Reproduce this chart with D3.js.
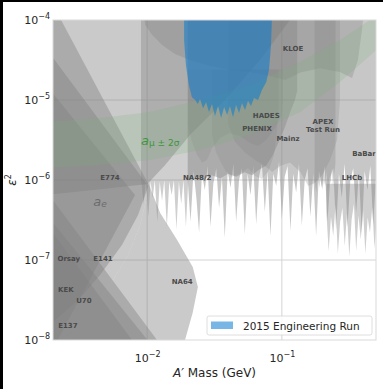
<!DOCTYPE html>
<html>
<head>
<meta charset="utf-8">
<script src="https://cdn.jsdelivr.net/npm/d3@7"></script>
<style>
  body { margin: 0; background: #fff; }
  svg { display: block; font-family: "DejaVu Sans", sans-serif; }
</style>
</head>
<body>
<svg id="chart" width="383" height="389"></svg>
<script>
// ---- Existing limits: [A' mass (GeV), epsilon^2] outlines ----
const e137 = [[0.0018, 2.74e-7], [0.00886, 7.3e-9], [0.0018, 5e-9]];
const kek = [[0.0018, 3.65e-7], [0.0114, 7.7e-9], [0.0018, 5e-9]];
const u70 = [[0.0018, 7.1e-7], [0.0136, 7.3e-9], [0.0018, 5e-9]];
const orsay = [[0.0018, 1.5e-5], [0.00813, 6.49e-7], [0.0018, 5.6e-9]];
const e141 = [[0.0018, 4.3e-5], [0.0102, 8.4e-7], [0.00856, 3.65e-7], [0.0065, 1.54e-7],
  [0.00447, 6.49e-8], [0.00307, 3.16e-8], [0.0020, 1.68e-8], [0.0018, 1.5e-8]];
const e774 = [[0.0018, 1.33e-4], [0.0021, 1.33e-4], [0.0102, 8.9e-7], [0.0018, 6.5e-7]];
const na64 = [[0.0102, 9.2e-7], [0.0125, 3.87e-7], [0.0167, 1.78e-7], [0.0218, 8.2e-8],
  [0.0238, 4.6e-8], [0.0218, 2.2e-8], [0.0191, 1.0e-8], [0.0182, 5.6e-9], [0.00207, 5.6e-9],
  [0.00225, 8.66e-9], [0.00291, 1.41e-8], [0.0041, 2.74e-8], [0.00548, 5.3e-8],
  [0.00722, 1.15e-7], [0.00886, 2.74e-7], [0.00983, 5.62e-7]];
const aE = [[0.0018, 2e-4], [0.130, 2e-4], [0.130, 1.4e-4], [0.115, 1.0e-4], [0.0689, 3.16e-5],
  [0.0379, 1.0e-5], [0.0208, 3.65e-6], [0.0136, 1.54e-6], [0.0102, 9.2e-7], [0.00983, 5.62e-7],
  [0.00886, 2.74e-7], [0.00722, 1.15e-7], [0.00548, 5.3e-8], [0.0041, 2.74e-8],
  [0.00291, 1.41e-8], [0.00225, 8.66e-9], [0.00207, 5.6e-9], [0.0018, 5.6e-9]];
const na48 = [[0.0090, 2e-4], [0.0090, 1.1e-6], [0.0094, 5e-7], [0.0098, 1.0e-6], [0.0102, 3.5e-7],
  [0.0106, 9.5e-7], [0.0110, 6e-7], [0.0114, 1.0e-6], [0.0119, 3e-7], [0.0124, 9.5e-7],
  [0.0129, 5.5e-7], [0.0134, 1.0e-6], [0.0140, 2.6e-7], [0.0146, 9.5e-7], [0.0152, 6.5e-7],
  [0.0158, 1.0e-6], [0.0165, 2.4e-7], [0.0172, 9.5e-7], [0.0179, 5e-7], [0.0186, 1.0e-6],
  [0.0194, 2.6e-7], [0.0202, 1.0e-6], [0.0230, 1.1e-6], [0.0260, 1.0e-6], [0.0300, 1.15e-6],
  [0.0350, 1.05e-6], [0.0400, 1.2e-6], [0.0460, 1.1e-6], [0.0530, 1.25e-6], [0.0600, 1.15e-6],
  [0.0680, 1.35e-6], [0.0760, 1.5e-6], [0.0850, 2.0e-6], [0.0950, 3.0e-6], [0.1050, 4.5e-6],
  [0.1150, 7e-6], [0.1250, 1.0e-5], [0.1300, 1.3e-5], [0.1300, 2e-4]];
const babar = [[0.0200, 2e-4], [0.0200, 1.0e-6], [0.0210, 3.0e-7], [0.0221, 1.3e-6], [0.0232, 6.0e-7],
  [0.0243, 2.2e-7], [0.0255, 1.2e-6], [0.0268, 7.5e-7], [0.0281, 1.5e-6], [0.0295, 2.6e-7],
  [0.0310, 9.0e-7], [0.0326, 1.4e-6], [0.0342, 4.5e-7], [0.0359, 1.1e-6], [0.0377, 1.9e-7],
  [0.0396, 1.3e-6], [0.0416, 8.0e-7], [0.0437, 1.6e-6], [0.0458, 3.0e-7], [0.0481, 1.0e-6],
  [0.0505, 1.4e-6], [0.0531, 2.1e-7], [0.0557, 1.2e-6], [0.0585, 6.5e-7], [0.0614, 1.5e-6],
  [0.0645, 2.8e-7], [0.0677, 1.1e-6], [0.0711, 1.6e-6], [0.0747, 4.0e-7], [0.0784, 1.3e-6],
  [0.0823, 2.0e-7], [0.0864, 1.2e-6], [0.0908, 8.5e-7], [0.0953, 1.7e-6], [0.1000, 3.2e-7],
  [0.1050, 1.1e-6], [0.1103, 1.5e-6], [0.1158, 2.3e-7], [0.1216, 1.2e-6], [0.1277, 7.0e-7],
  [0.1340, 1.6e-6], [0.1407, 2.7e-7], [0.1478, 1.0e-6], [0.1552, 1.4e-6], [0.1629, 3.5e-7],
  [0.1711, 1.2e-6], [0.1796, 2.0e-7], [0.1886, 1.3e-6], [0.1980, 8.0e-7], [0.2079, 1.5e-6],
  [0.2183, 3.0e-7], [0.2292, 1.1e-6], [0.2407, 1.4e-6], [0.2527, 2.4e-7], [0.2654, 1.2e-6],
  [0.2786, 6.0e-7], [0.2926, 1.6e-6], [0.3072, 2.6e-7], [0.3225, 1.0e-6], [0.3387, 1.4e-6],
  [0.3556, 3.8e-7], [0.3734, 1.2e-6], [0.3920, 2.2e-7], [0.4116, 1.3e-6], [0.4322, 7.5e-7],
  [0.4538, 1.5e-6], [0.4765, 2.8e-7], [0.5003, 1.1e-6], [0.5253, 1.4e-6], [0.5253, 2e-4]];
const lhcb = [[0.214, 9e-7], [0.214, 4e-7], [0.2226, 1.3e-7], [0.2315, 3.5e-7], [0.2407, 2.0e-7],
  [0.2504, 5e-7], [0.2604, 1.2e-7], [0.2708, 3.0e-7], [0.2816, 4.5e-7], [0.2929, 1.5e-7],
  [0.3046, 3.8e-7], [0.3168, 1.1e-7], [0.3295, 3.2e-7], [0.3426, 5e-7], [0.3564, 1.3e-7],
  [0.3706, 3.6e-7], [0.3854, 1.8e-7], [0.4009, 4.2e-7], [0.4169, 1.2e-7], [0.4336, 3.4e-7],
  [0.4509, 2.2e-7], [0.4690, 4.6e-7], [0.4877, 1.4e-7], [0.5072, 3.5e-7], [0.5275, 2.5e-7],
  [0.5275, 9e-7]];
const hades = [[0.0201, 2.4e-5], [0.0201, 4.87e-6], [0.0215, 3.0e-6], [0.0235, 2.05e-6], [0.0256, 1.66e-6],
  [0.0278, 1.78e-6], [0.0303, 2.5e-6], [0.0348, 3.35e-6], [0.0412, 3.87e-6], [0.0489, 3.55e-6],
  [0.0580, 2.9e-6], [0.0666, 2.66e-6], [0.0766, 3.16e-6], [0.0890, 4.47e-6], [0.100, 6.5e-6],
  [0.102, 1e-5], [0.102, 2.4e-5]];
const phenix = [[0.0303, 2.4e-5], [0.0303, 3.65e-6], [0.0324, 2.24e-6], [0.0354, 1.63e-6], [0.0386, 1.26e-6],
  [0.0426, 1.1e-6], [0.0489, 1.2e-6], [0.056, 1.41e-6], [0.0632, 1.12e-6], [0.0711, 1.03e-6],
  [0.0796, 1.3e-6], [0.0875, 2.05e-6], [0.0920, 4.2e-6], [0.094, 7.5e-6], [0.094, 2.4e-5]];
const mainz = [[0.040, 2e-4], [0.040, 4.9e-6], [0.0449, 3.0e-6], [0.0533, 2.2e-6], [0.0632, 1.78e-6],
  [0.0750, 1.5e-6], [0.0848, 1.26e-6], [0.0970, 1.5e-6], [0.115, 1.66e-6], [0.137, 1.26e-6],
  [0.157, 8.4e-7], [0.176, 9.2e-7], [0.199, 1.15e-6], [0.228, 1.78e-6], [0.257, 3.16e-6],
  [0.270, 1e-5], [0.270, 2e-4]];
const apex = [[0.175, 2e-4], [0.175, 1.0e-6], [0.180, 7.0e-7], [0.185, 1.1e-6], [0.190, 8e-7],
  [0.195, 1.2e-6], [0.200, 7.5e-7], [0.205, 1.0e-6], [0.210, 8.5e-7], [0.215, 1.3e-6],
  [0.220, 7.2e-7], [0.225, 1.1e-6], [0.230, 9e-7], [0.235, 1.4e-6], [0.240, 8e-7],
  [0.245, 1.2e-6], [0.250, 1.6e-6], [0.250, 2e-4]];
const kloe = [[0.00934, 2e-4], [0.00934, 1.33e-4], [0.00967, 8.66e-5], [0.0109, 6.49e-5], [0.0129, 4.87e-5],
  [0.0161, 3.76e-5], [0.0208, 3.16e-5], [0.0293, 2.66e-5], [0.0412, 2.37e-5], [0.0580, 2.24e-5],
  [0.0817, 2.0e-5], [0.106, 1.78e-5], [0.137, 2.2e-5], [0.192, 2.5e-5], [0.270, 2.24e-5],
  [0.332, 1.88e-5], [0.367, 3.16e-5], [0.393, 7.5e-5], [0.407, 1.33e-4], [0.407, 2e-4]];

// Muon g-2 favoured band (upper edge then lower edge)
const amuUpper = [[0.0018, 5.3e-6], [0.00447, 5.96e-6], [0.0105, 7.1e-6], [0.0247, 1.0e-5],
  [0.058, 1.54e-5], [0.137, 3.0e-5], [0.270, 5.62e-5], [0.451, 1.0e-4], [0.6, 1.5e-4]];
const amuLower = [[0.6, 7.5e-5], [0.5, 4.2e-5], [0.27, 1.68e-5], [0.137, 7.1e-6], [0.058, 3.65e-6],
  [0.0247, 2.37e-6], [0.0105, 1.78e-6], [0.00447, 1.54e-6], [0.0018, 1.41e-6]];

// 2015 Engineering Run reach
const engRun = [[0.0188, 1.33e-4], [0.0188, 5.62e-5], [0.0194, 2.74e-5], [0.0204, 1.54e-5],
  [0.0215, 1.08e-5], [0.0227, 1.0e-5], [0.0238, 8.9e-6], [0.0247, 1.03e-5], [0.0260, 7.9e-6],
  [0.0274, 9.4e-6], [0.0288, 7.1e-6], [0.0303, 8.9e-6], [0.0319, 6.3e-6], [0.0336, 8.4e-6],
  [0.0354, 5.96e-6], [0.0373, 8.2e-6], [0.0392, 6.5e-6], [0.0412, 8.4e-6], [0.0434, 6.1e-6],
  [0.0457, 8.7e-6], [0.0481, 6.9e-6], [0.0506, 9.2e-6], [0.0533, 7.5e-6], [0.0561, 9.8e-6],
  [0.0590, 8.4e-6], [0.0621, 1.06e-5], [0.0666, 1.0e-5], [0.0711, 1.33e-5], [0.0766, 1.68e-5],
  [0.0803, 2.37e-5], [0.0831, 4.87e-5], [0.0848, 1.33e-4]];

// Experiment labels: [name, mass, epsilon^2]
const expLabels = [
  ["KLOE", 0.121, 4.3e-5], ["HADES", 0.0766, 6.3e-6], ["PHENIX", 0.0654, 4.3e-6],
  ["Mainz", 0.111, 3.3e-6], ["APEX", 0.202, 5.3e-6], ["Test Run", 0.202, 4.2e-6],
  ["BaBar", 0.407, 2.1e-6], ["LHCb", 0.332, 1.05e-6], ["NA48/2", 0.0235, 1.05e-6],
  ["E774", 0.0053, 1.05e-6], ["Orsay", 0.00262, 1.03e-7], ["E141", 0.0047, 1.03e-7],
  ["KEK", 0.00249, 4.2e-8], ["U70", 0.00339, 3.05e-8], ["E137", 0.00258, 1.5e-8],
  ["NA64", 0.0182, 5.3e-8]
];
const aeLabelPos = [0.00447, 5.4e-7];
const amuLabelPos = [0.0125, 3.2e-6];

// Axis ticks
const xTicks = [0.01, 0.1];
const xTickExp = ["\u22122", "\u22121"];
const yTicks = [1e-8, 1e-7, 1e-6, 1e-5, 1e-4];
const yTickExp = ["\u22128", "\u22127", "\u22126", "\u22125", "\u22124"];

// ---- Layout ----
const svg = d3.select("#chart");
const W = 383, H = 389;
const m = { top: 20, right: 7, bottom: 49, left: 53 };
const x = d3.scaleLog().domain([0.002, 0.5]).range([m.left, W - m.right]);
const y = d3.scaleLog().domain([1e-8, 1e-4]).range([H - m.bottom, m.top]);

svg.append("rect").attr("width", W).attr("height", H).attr("fill", "#fff");

svg.append("defs").append("clipPath").attr("id", "plotClip")
  .append("rect").attr("x", m.left).attr("y", m.top)
  .attr("width", W - m.left - m.right).attr("height", H - m.top - m.bottom);

// Grid
const grid = svg.append("g");
grid.selectAll("line.gx").data(xTicks).join("line")
  .attr("x1", d => x(d)).attr("x2", d => x(d))
  .attr("y1", m.top).attr("y2", H - m.bottom)
  .attr("stroke", "#d4d4d4").attr("stroke-width", 1);
grid.selectAll("line.gy").data(yTicks.slice(1, -1)).join("line")
  .attr("y1", d => y(d)).attr("y2", d => y(d))
  .attr("x1", m.left).attr("x2", W - m.right)
  .attr("stroke", "#d4d4d4").attr("stroke-width", 1);

const plot = svg.append("g").attr("clip-path", "url(#plotClip)");
const area = d3.line().x(d => x(d[0])).y(d => y(d[1]));

// Each limit filled in translucent grey; overlaps stack darker
const layers = [
  { pts: e137, op: 0.42 }, { pts: kek, op: 0.42 }, { pts: u70, op: 0.42 },
  { pts: orsay, op: 0.42 }, { pts: e141, op: 0.42 }, { pts: e774, op: 0.42 },
  { pts: na64, op: 0.42 }, { pts: aE, op: 0.42 }, { pts: na48, op: 0.38 },
  { pts: babar, op: 0.44 }, { pts: lhcb, op: 0.38 }, { pts: hades, op: 0.2 },
  { pts: phenix, op: 0.2 }, { pts: mainz, op: 0.24 }, { pts: apex, op: 0.3 },
  { pts: kloe, op: 0.3 }
];
plot.selectAll("path.limit").data(layers).join("path")
  .attr("class", "limit")
  .attr("d", d => area(d.pts) + "Z")
  .attr("fill", "#808080").attr("fill-opacity", d => d.op).attr("stroke", "none");

// g-2 band
plot.append("path")
  .attr("d", area(amuUpper.concat(amuLower)) + "Z")
  .attr("fill", "#72b272").attr("fill-opacity", 0.2);

// Engineering run region
const runColor = "#0a7bd0";
plot.append("path")
  .attr("d", area(engRun) + "Z")
  .attr("fill", runColor).attr("fill-opacity", 0.55);

// Labels
plot.selectAll("text.exp").data(expLabels).join("text")
  .attr("class", "exp")
  .attr("x", d => x(d[1])).attr("y", d => y(d[2]))
  .attr("text-anchor", "middle").attr("dominant-baseline", "central")
  .attr("font-size", 7).attr("font-weight", "bold").attr("fill", "#4a4a4a")
  .text(d => d[0]);

const aeT = plot.append("text")
  .attr("x", x(aeLabelPos[0])).attr("y", y(aeLabelPos[1]))
  .attr("text-anchor", "middle").attr("dominant-baseline", "central")
  .attr("fill", "#6c6c6c").attr("font-size", 13);
aeT.append("tspan").attr("font-style", "italic").text("a");
aeT.append("tspan").attr("font-size", 9).attr("font-style", "italic").attr("dy", 3).text("e");

const amuT = plot.append("text")
  .attr("x", x(amuLabelPos[0])).attr("y", y(amuLabelPos[1]))
  .attr("text-anchor", "middle").attr("dominant-baseline", "central")
  .attr("fill", "#3d963d").attr("font-size", 13);
amuT.append("tspan").attr("font-style", "italic").text("a");
amuT.append("tspan").attr("font-size", 9).attr("dy", 3).text("\u03bc \u00b1 2\u03c3");

// Frame
svg.append("rect").attr("x", m.left).attr("y", m.top)
  .attr("width", W - m.left - m.right).attr("height", H - m.top - m.bottom)
  .attr("fill", "none").attr("stroke", "#d9d9d9").attr("stroke-width", 1);

// Axes with power-of-ten labels
const yAxis = svg.append("g").attr("transform", `translate(${m.left},0)`)
  .call(d3.axisLeft(y).tickValues(yTicks).tickSize(0).tickPadding(3).tickFormat(() => ""));
const xAxis = svg.append("g").attr("transform", `translate(0,${H - m.bottom})`)
  .call(d3.axisBottom(x).tickValues(xTicks).tickSize(0).tickPadding(14).tickFormat(() => ""));
[yAxis, xAxis].forEach(g => g.select(".domain").remove());

yAxis.selectAll(".tick text").each(function (d, i) {
  const t = d3.select(this).attr("fill", "#262626").attr("font-size", 11)
    .attr("font-family", "DejaVu Sans");
  t.append("tspan").text("10");
  t.append("tspan").attr("font-size", 8).attr("dy", -5).text(yTickExp[i]);
});
xAxis.selectAll(".tick text").each(function (d, i) {
  const t = d3.select(this).attr("fill", "#262626").attr("font-size", 11)
    .attr("font-family", "DejaVu Sans");
  t.append("tspan").text("10");
  t.append("tspan").attr("font-size", 8).attr("dy", -5).text(xTickExp[i]);
});

// Axis titles
const xt = svg.append("text").attr("x", (m.left + W - m.right) / 2).attr("y", 377)
  .attr("text-anchor", "middle").attr("font-size", 12).attr("fill", "#262626");
xt.append("tspan").attr("font-style", "italic").text("A\u2032");
xt.append("tspan").text(" Mass (GeV)");

const yt = svg.append("text").attr("transform", `translate(16,${(m.top + H - m.bottom) / 2}) rotate(-90)`)
  .attr("text-anchor", "middle").attr("font-size", 12).attr("fill", "#262626");
yt.append("tspan").attr("font-style", "italic").text("\u03b5");
yt.append("tspan").attr("font-size", 8).attr("dy", -5).text("2");

// Legend
const lg = svg.append("g");
lg.append("rect").attr("x", 207).attr("y", 316).attr("width", 165).attr("height", 19)
  .attr("rx", 2).attr("fill", "#fff").attr("fill-opacity", 0.85)
  .attr("stroke", "#d6d6d6").attr("stroke-width", 0.8);
lg.append("rect").attr("x", 211).attr("y", 321.5).attr("width", 22).attr("height", 7.5)
  .attr("fill", runColor).attr("fill-opacity", 0.55);
lg.append("text").attr("x", 243).attr("y", 329.5).attr("font-size", 10.5)
  .attr("fill", "#262626").text("2015 Engineering Run");

// Dark border strips along the left and top edges
svg.append("rect").attr("x", 0).attr("y", 0).attr("width", 3).attr("height", H).attr("fill", "#000");
svg.append("rect").attr("x", 0).attr("y", 0).attr("width", W).attr("height", 2).attr("fill", "#000");
</script>
</body>
</html>
